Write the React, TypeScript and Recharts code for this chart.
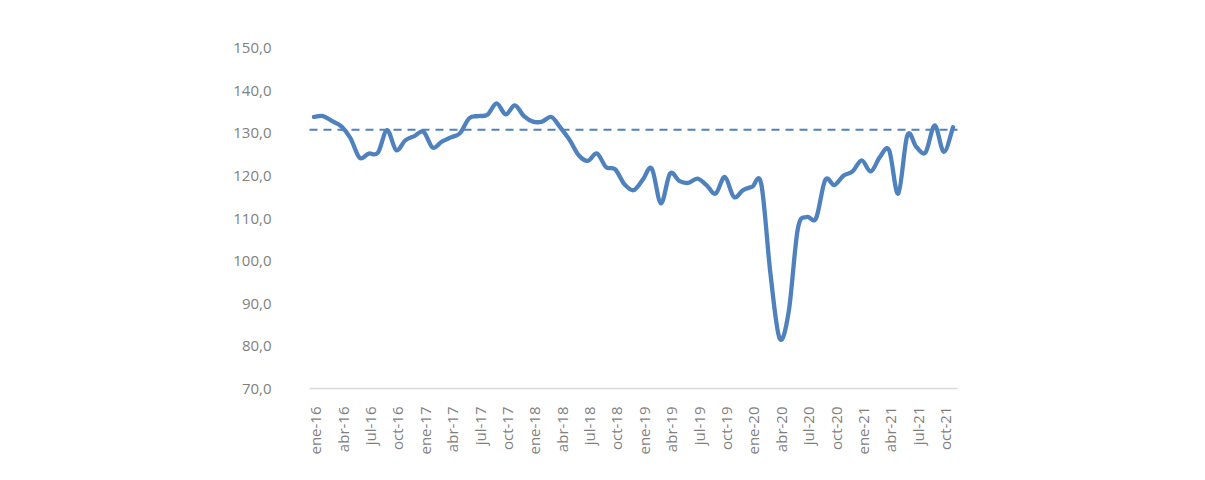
import React from "react";
import { LineChart, Line, XAxis, YAxis, ReferenceLine } from "recharts";

const monthNames = ["ene", "feb", "mar", "abr", "may", "jun", "jul", "ago", "sep", "oct", "nov", "dic"];
const years = ["16", "17", "18", "19", "20", "21"];

const values2016 = [133.8, 134.0, 132.8, 131.6, 128.8, 124.2, 125.2, 125.4, 130.7, 126.0, 128.3, 129.3];
const values2017 = [130.3, 126.6, 128.0, 129.0, 130.0, 133.5, 134.0, 134.3, 137.0, 134.4, 136.5, 134.0];
const values2018 = [132.7, 132.7, 133.8, 131.3, 128.4, 124.8, 123.5, 125.2, 122.0, 121.5, 118.0, 116.6];
const values2019 = [119.0, 121.7, 113.5, 120.5, 118.8, 118.3, 119.3, 117.8, 115.8, 119.7, 115.0, 116.6];
const values2020 = [117.4, 118.0, 97.0, 81.8, 88.0, 107.5, 110.3, 110.0, 119.0, 117.8, 120.0, 121.0];
const values2021 = [123.6, 121.0, 124.4, 126.0, 115.8, 129.5, 126.7, 125.5, 131.8, 125.6, 131.4];

const referenceValue = 130.8;
const yTicks = [70, 80, 90, 100, 110, 120, 130, 140, 150];

const allValues = [...values2016, ...values2017, ...values2018, ...values2019, ...values2020, ...values2021];
const data = allValues.map((v, i) => ({
  label: `${monthNames[i % 12]}-${years[Math.floor(i / 12)]}`,
  value: v,
}));

const fmt = (v: number) => v.toFixed(1).replace(".", ",");

// Catmull-Rom style smoothing (similar to Excel's smoothed line)
const smoothCurve: any = (context: any) => {
  let pts: [number, number][] = [];
  return {
    areaStart() {},
    areaEnd() {},
    lineStart() {
      pts = [];
    },
    point(x: number, y: number) {
      pts.push([+x, +y]);
    },
    lineEnd() {
      const n = pts.length;
      if (!n) return;
      context.moveTo(pts[0][0], pts[0][1]);
      for (let i = 0; i < n - 1; i++) {
        const p0 = pts[i - 1] || pts[i];
        const p1 = pts[i];
        const p2 = pts[i + 1];
        const p3 = pts[i + 2] || p2;
        const c1x = p1[0] + (p2[0] - p0[0]) / 6;
        const c1y = p1[1] + (p2[1] - p0[1]) / 6;
        const c2x = p2[0] - (p3[0] - p1[0]) / 6;
        const c2y = p2[1] - (p3[1] - p1[1]) / 6;
        context.bezierCurveTo(c1x, c1y, c2x, c2y, p2[0], p2[1]);
      }
    },
  };
};

const XTick = (props: any) => {
  const { x, y, payload } = props;
  return (
    <text
      transform={`translate(${x + 2},${y + 10}) rotate(-90)`}
      textAnchor="end"
      dy="0.35em"
      fill="#7f7f7f"
      fontSize={15}
      fontFamily="'Open Sans', sans-serif"
    >
      {payload.value}
    </text>
  );
};

export default function App() {
  return (
    <div style={{ width: 1205, height: 480, background: "#fff" }}>
      <style>{`body{margin:0;}`}</style>
      <LineChart
        width={1205}
        height={480}
        data={data}
        margin={{ top: 48, right: 247.5, bottom: 11.5, left: 200 }}
      >
        <XAxis
          dataKey="label"
          interval={2}
          height={80}
          tickLine={false}
          axisLine={{ stroke: "#d9d9d9", strokeWidth: 1.5 }}
          padding={{ left: 4.5, right: 4.5 }}
          tick={<XTick />}
        />
        <YAxis
          width={109.5}
          domain={[70, 150]}
          ticks={yTicks}
          tickFormatter={fmt}
          axisLine={false}
          tickLine={false}
          tickSize={0}
          tickMargin={38}
          tick={{ fill: "#7f7f7f", fontSize: 15, fontFamily: "'Open Sans', sans-serif" }}
          interval={0}
        />
        <ReferenceLine
          y={referenceValue}
          stroke="#4f81bd"
          strokeWidth={2}
          strokeDasharray="8 6"
          ifOverflow="extendDomain"
        />
        <Line
          type={smoothCurve}
          dataKey="value"
          stroke="#4f81bd"
          strokeWidth={4.3}
          strokeLinejoin="round"
          strokeLinecap="round"
          dot={false}
          isAnimationActive={false}
        />
      </LineChart>
    </div>
  );
}
